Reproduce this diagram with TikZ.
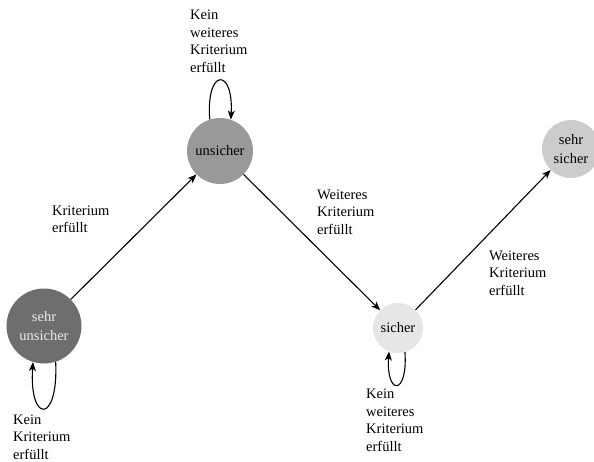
\documentclass[tikz,border=0pt]{standalone}
\usepackage{fontspec}
\setmainfont{Liberation Serif}
\usetikzlibrary{arrows.meta}
\definecolor{csu}{HTML}{6E6E6E}
\definecolor{cun}{HTML}{999999}
\definecolor{csi}{HTML}{E6E6E6}
\definecolor{css}{HTML}{CCCCCC}
\tikzset{
  state/.style={circle, inner sep=0pt, align=center, font=\fontsize{14.5}{19}\selectfont},
  lbl/.style={anchor=north west, inner sep=0pt, align=left, font=\fontsize{14.5}{17.5}\selectfont},
  arr/.style={-{Stealth[length=9pt,width=7pt,inset=2.5pt]}, line width=1.1pt},
}
\begin{document}
\begin{tikzpicture}[x=1pt,y=1pt]
\useasboundingbox (0,0) rectangle (594,461);
\begin{scope}
\clip (0,0) rectangle (594,461);
\node[state, fill=csu, text=white!92!black, minimum size=75pt] (su) at (44,135) {sehr\\unsicher};
\node[state, fill=cun, minimum size=66pt] (un) at (220,310) {unsicher};
\node[state, fill=csi, minimum size=50pt] (si) at (398,133) {sicher};
\node[state, fill=css, minimum size=58pt] (ss) at (571,312) {sehr\\sicher};
\end{scope}

\draw[arr] (su) -- (un);
\draw[arr] (un) -- (si);
\draw[arr] (si) -- (ss);

\draw[arr] (su.-72) .. controls +(3,-62) and +(-4,-62) .. (su.-107);
\draw[arr] (un.108) .. controls +(-4,52) and +(3,52) .. (un.71);
\draw[arr] (si.-74) .. controls +(3,-44) and +(-3,-44) .. (si.-111);

\node[lbl] (l1) at (52,255.5) {Kriterium\\erfüllt};
\node[lbl] (l2) at (317,271.5) {Weiteres\\Kriterium\\erfüllt};
\node[lbl] (l3) at (489,210.5) {Weiteres\\Kriterium\\erfüllt};
\node[lbl] (l4) at (190,451) {Kein\\weiteres\\Kriterium\\erfüllt};
\node[lbl] (l5) at (13,46.5) {Kein\\Kriterium\\erfüllt};
\node[lbl] (l6) at (366,72) {Kein\\weiteres\\Kriterium\\erfüllt};
\end{tikzpicture}
\end{document}
